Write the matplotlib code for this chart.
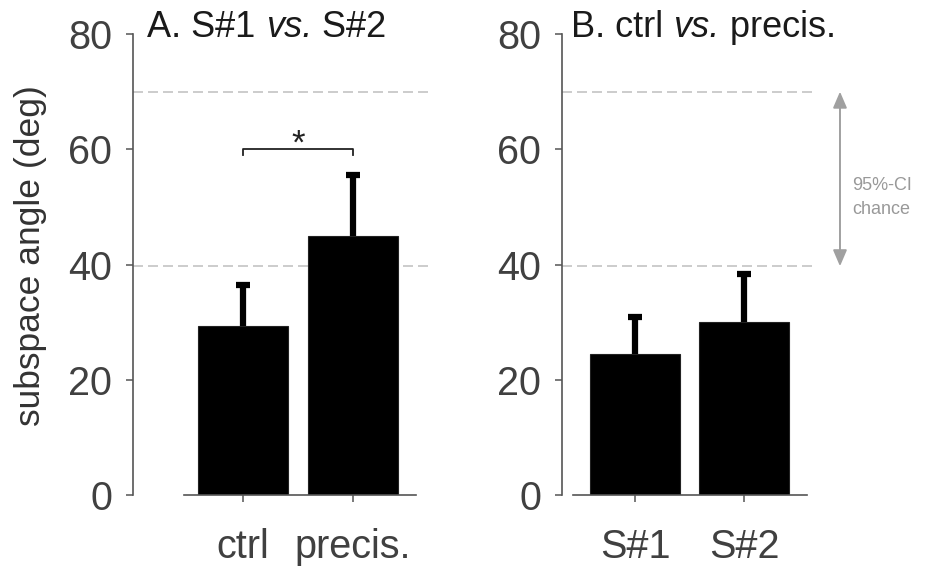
import matplotlib
matplotlib.use("Agg")
import matplotlib.pyplot as plt

plt.rcParams['font.family'] = ['Liberation Sans', 'DejaVu Sans']

# panel A: S#1 vs S#2
a_labels = ["ctrl", "precis."]
a_means = [29.4, 44.9]
a_err = [7.0, 10.7]

# panel B: ctrl vs precis
b_labels = ["S#1", "S#2"]
b_means = [24.5, 30.0]
b_err = [6.4, 8.4]

chance_lo = 39.7
chance_hi = 70.0

tick_col = "#404040"
spine_col = "#555555"
dash_col = "#c4c4c4"

fig = plt.figure(figsize=(9.38, 5.68), dpi=100)
axA = fig.add_axes([0.1418, 0.1285, 0.3166, 0.8116])
axB = fig.add_axes([0.5991, 0.1285, 0.2720, 0.8116])


def style(ax, labels, means, err, xlim, xb):
    x = [1, 2]
    ax.bar(x, means, width=0.82, color="black", edgecolor="#222222", linewidth=0.8, zorder=2)
    eb = ax.errorbar(x, means, yerr=[[0, 0], err], fmt="none", ecolor="black",
                     elinewidth=4.5, capsize=5, capthick=4.5, zorder=3)
    # only the upper caps
    eb[1][0].set_visible(False)
    for yv in (chance_lo, chance_hi):
        ax.axhline(yv, color=dash_col, lw=1.2, ls=(0, (6, 3)), zorder=1)
    ax.set_xlim(*xlim)
    ax.set_ylim(0, 80)
    ax.set_yticks([0, 20, 40, 60, 80])
    ax.set_xticks(x)
    ax.set_xticklabels(labels)
    for s in ("top", "right"):
        ax.spines[s].set_visible(False)
    ax.spines["left"].set_color(spine_col)
    ax.spines["bottom"].set_color(spine_col)
    ax.spines["left"].set_linewidth(1.2)
    ax.spines["bottom"].set_linewidth(1.2)
    ax.spines["bottom"].set_bounds(*xb)
    ax.tick_params(axis="y", length=5, width=1.1, color=spine_col, pad=10,
                   labelsize=28.5, labelcolor=tick_col)
    ax.tick_params(axis="x", length=5, width=1.1, color=spine_col, pad=19,
                   labelsize=28.5, labelcolor=tick_col)


style(axA, a_labels, a_means, a_err, (0, 2.7), (0.46, 2.57))
style(axB, b_labels, b_means, b_err, (0.33, 2.67), (0.43, 2.58))

axA.set_ylabel("subspace angle (deg)", fontsize=25.5, color="#333333")
axA.yaxis.set_label_coords(-0.29, 0.52)

# significance bracket
axA.plot([1, 1, 2, 2], [59.0, 60.1, 60.1, 59.0], color="#222222", lw=1.3, zorder=4)
axA.text(1.5, 58.0, "*", ha="center", va="bottom", fontsize=25, color="#222222")

# chance interval arrow
axB.annotate("", xy=(2.88, chance_lo), xytext=(2.88, chance_hi),
             xycoords="data", textcoords="data", annotation_clip=False,
             arrowprops=dict(arrowstyle="<|-|>,head_length=0.7,head_width=0.3",
                             color="#a0a0a0", lw=1.4,
                             mutation_scale=14, shrinkA=0, shrinkB=0))
axB.text(2.99, 51.7, "95%-CI\nchance", ha="left", va="center", fontsize=13,
         color="#999999", linespacing=1.55, clip_on=False)


def title(x, parts, y=0.935):
    # title pieces laid one after another, some of them italic
    renderer = fig.canvas.get_renderer()
    inv = fig.transFigure.inverted()
    for s, st in parts:
        t = fig.text(x, y, s, fontsize=26, color="#1a1a1a", va="baseline",
                     ha="left", style=st)
        bb = t.get_window_extent(renderer)
        x = inv.transform((bb.x1, bb.y0))[0]


title(0.157, [("A. S#1 ", "normal"), ("vs.", "italic"), (" S#2", "normal")])
title(0.609, [("B. ctrl ", "normal"), ("vs.", "italic"), (" precis.", "normal")])

fig.savefig("out.png", dpi=100)
